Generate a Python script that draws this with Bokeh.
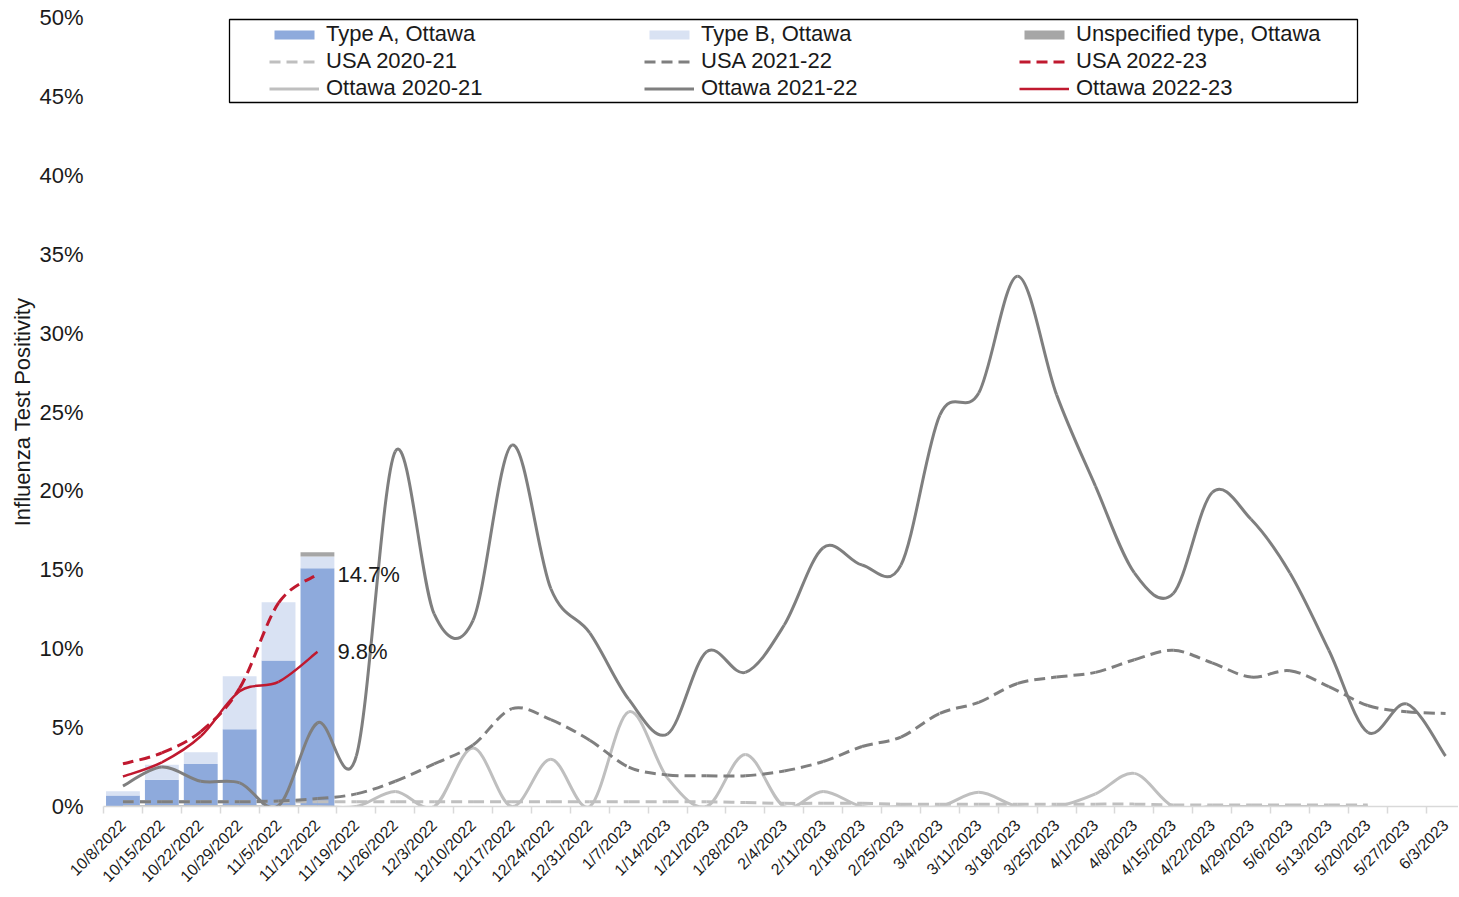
import math
from bokeh.plotting import figure
from bokeh.models import FixedTicker, Legend, LegendItem, BoxAnnotation, Range1d, ColumnDataSource
from bokeh.core.properties import value
from bokeh.embed import file_html
from bokeh.resources import INLINE

# ---------------- data ----------------
weeks = ["10/8/2022", "10/15/2022", "10/22/2022", "10/29/2022", "11/5/2022", "11/12/2022",
         "11/19/2022", "11/26/2022", "12/3/2022", "12/10/2022", "12/17/2022", "12/24/2022",
         "12/31/2022", "1/7/2023", "1/14/2023", "1/21/2023", "1/28/2023", "2/4/2023",
         "2/11/2023", "2/18/2023", "2/25/2023", "3/4/2023", "3/11/2023", "3/18/2023",
         "3/25/2023", "4/1/2023", "4/8/2023", "4/15/2023", "4/22/2023", "4/29/2023",
         "5/6/2023", "5/13/2023", "5/20/2023", "5/27/2023", "6/3/2023"]

type_a_ottawa = [0.7, 1.7, 2.7, 4.9, 9.25, 15.1]
type_b_ottawa = [0.27, 0.95, 0.74, 3.35, 3.7, 0.75]
unspec_ottawa = [0.0, 0.0, 0.0, 0.0, 0.0, 0.26]

usa_2020_21 = [0.3, 0.3, 0.3, 0.3, 0.3, 0.3, 0.3, 0.3, 0.3, 0.3, 0.3, 0.3, 0.3, 0.3, 0.3, 0.3,
               0.25, 0.2, 0.2, 0.2, 0.15, 0.15, 0.15, 0.15, 0.15, 0.15, 0.15, 0.1, 0.1, 0.1,
               0.1, 0.1, 0.1]
ottawa_2020_21 = [0.0, 0.0, 0.0, 0.0, 0.0, 0.0, 0.0, 0.95, 0.0, 3.7, 0.0, 3.0, 0.0, 6.0, 1.8,
                  0.0, 3.3, 0.0, 0.95, 0.0, 0.0, 0.0, 0.9, 0.0, 0.0, 0.8, 2.1, 0.0, 0.0, 0.0,
                  0.0, 0.0, 0.0]
usa_2021_22 = [0.3, 0.3, 0.3, 0.3, 0.35, 0.5, 0.8, 1.6, 2.7, 3.9, 6.2, 5.5, 4.2, 2.5, 2.0,
               1.95, 1.95, 2.25, 2.85, 3.8, 4.4, 5.9, 6.6, 7.8, 8.2, 8.5, 9.3, 9.9, 9.1, 8.2,
               8.6, 7.6, 6.4, 6.0, 5.9]
ottawa_2021_22 = [1.3, 2.5, 1.6, 1.5, 0.05, 5.3, 3.2, 22.5, 12.2, 11.8, 22.9, 13.8, 11.0, 6.8,
                  4.6, 9.8, 8.5, 11.5, 16.4, 15.3, 15.3, 24.8, 26.2, 33.6, 26.1, 20.3, 14.8,
                  13.5, 19.9, 18.2, 14.8, 9.9, 4.7, 6.5, 3.2]
usa_2022_23 = [2.7, 3.4, 4.75, 7.5, 12.9, 14.7]
ottawa_2022_23 = [1.9, 2.8, 4.45, 7.3, 7.9, 9.8]

y_ticks = [0, 5, 10, 15, 20, 25, 30, 35, 40, 45, 50]

# ---------------- styles ----------------
FONT = "Liberation Sans"
C_A, C_B, C_U = "#8eaadc", "#d9e2f3", "#a6a6a6"
C_LIGHT, C_DARK, C_RED = "#bfbfbf", "#7f7f7f", "#c0192f"
TXT = "#1a1a1a"

FRAME_LEFT, FRAME_TOP, FRAME_W, FRAME_H = 103, 17, 1355, 789
W, H = FRAME_LEFT + FRAME_W, 896
PX_PER_CAT = 38.9
X0 = -0.5
X1 = X0 + FRAME_W / PX_PER_CAT

p = figure(width=W, height=H, output_backend="svg", toolbar_location=None,
           x_range=Range1d(X0, X1), y_range=Range1d(0, 50), min_border=0,
           min_border_left=FRAME_LEFT, min_border_right=0, min_border_top=FRAME_TOP,
           min_border_bottom=H - FRAME_TOP - FRAME_H)
p.outline_line_color = None
p.xgrid.visible = False
p.ygrid.visible = False
p.background_fill_color = "white"

idx = list(range(len(weeks)))

# bars
bx = idx[:len(type_a_ottawa)]
a_top = [a for a in type_a_ottawa]
b_top = [a + b for a, b in zip(type_a_ottawa, type_b_ottawa)]
u_top = [t + u for t, u in zip(b_top, unspec_ottawa)]
r_a = p.vbar(x=bx, bottom=0, top=a_top, width=0.87, fill_color=C_A, line_color=None)
r_b = p.vbar(x=bx, bottom=a_top, top=b_top, width=0.87, fill_color=C_B, line_color=None)
r_u = p.vbar(x=bx, bottom=b_top, top=u_top, width=0.87, fill_color=C_U, line_color=None)


def smooth(vals, **kw):
    """Smooth curve through the values (Catmull-Rom as cubic Bezier segments)."""
    n = len(vals)
    xs = list(range(n))
    d = dict(x0=[], y0=[], x1=[], y1=[], cx0=[], cy0=[], cx1=[], cy1=[])
    for i in range(n - 1):
        a = max(i - 1, 0)
        b = min(i + 2, n - 1)
        d["x0"].append(xs[i]); d["y0"].append(vals[i])
        d["x1"].append(xs[i + 1]); d["y1"].append(vals[i + 1])
        d["cx0"].append(xs[i] + (xs[i + 1] - xs[a]) / 6.0)
        d["cy0"].append(vals[i] + (vals[i + 1] - vals[a]) / 6.0)
        d["cx1"].append(xs[i + 1] - (xs[b] - xs[i]) / 6.0)
        d["cy1"].append(vals[i + 1] - (vals[b] - vals[i]) / 6.0)
    src = ColumnDataSource(d)
    return p.bezier(x0="x0", y0="y0", x1="x1", y1="y1", cx0="cx0", cy0="cy0",
                    cx1="cx1", cy1="cy1", source=src, **kw)


DASH = "11 6"
l_usa20 = smooth(usa_2020_21, line_color=C_LIGHT, line_width=3, line_dash=DASH)
l_ott20 = smooth(ottawa_2020_21, line_color=C_LIGHT, line_width=3)
l_usa21 = smooth(usa_2021_22, line_color=C_DARK, line_width=3, line_dash=DASH)
l_ott21 = smooth(ottawa_2021_22, line_color=C_DARK, line_width=3)
l_usa22 = smooth(usa_2022_23, line_color=C_RED, line_width=3, line_dash=DASH)
l_ott22 = smooth(ottawa_2022_23, line_color=C_RED, line_width=2.5)

# end labels
last = len(usa_2022_23) - 1
lab_src = ColumnDataSource(dict(x=[last, last], y=[usa_2022_23[last], ottawa_2022_23[last]],
                                t=[f"{usa_2022_23[last]:.1f}%", f"{ottawa_2022_23[last]:.1f}%"]))
p.text(x="x", y="y", text="t", source=lab_src, x_offset=20, text_baseline="middle",
       text_align="left", text_font=value(FONT), text_font_size="22px", text_color=TXT)

# axes
xa = p.xaxis[0]
xa.ticker = FixedTicker(ticks=idx, minor_ticks=[i - 0.5 for i in range(len(weeks) + 1)])
xa.major_label_overrides = {i: w for i, w in zip(idx, weeks)}
xa.major_label_orientation = math.pi / 4
xa.major_label_text_font = FONT
xa.major_label_text_font_size = "16px"
xa.major_label_text_color = TXT
xa.major_tick_line_color = None
xa.major_tick_out = 0
xa.major_tick_in = 0
xa.minor_tick_line_color = "#d9d9d9"
xa.minor_tick_line_width = 1.5
xa.minor_tick_out = 7
xa.minor_tick_in = 0
xa.axis_line_color = "#d9d9d9"
xa.axis_line_width = 1.5
xa.major_label_standoff = 9

ya = p.yaxis[0]
ya.ticker = FixedTicker(ticks=y_ticks)
ya.major_label_overrides = {t: f"{t}%" for t in y_ticks}
ya.major_label_text_font = FONT
ya.major_label_text_font_size = "22px"
ya.major_label_text_color = TXT
ya.axis_line_color = None
ya.major_tick_line_color = None
ya.minor_tick_line_color = None
ya.major_tick_out = 0
ya.major_tick_in = 0
ya.major_label_standoff = 20
ya.axis_label = "Influenza Test Positivity"
ya.axis_label_text_font = FONT
ya.axis_label_text_font_size = "22px"
ya.axis_label_text_font_style = "normal"
ya.axis_label_text_color = TXT
ya.axis_label_standoff = 1

# legend (three columns inside one frame)
leg_cols = [
    [("Type A, Ottawa", r_a), ("USA 2020-21", l_usa20), ("Ottawa 2020-21", l_ott20)],
    [("Type B, Ottawa", r_b), ("USA 2021-22", l_usa21), ("Ottawa 2021-22", l_ott21)],
    [("Unspecified type, Ottawa", r_u), ("USA 2022-23", l_usa22), ("Ottawa 2022-23", l_ott22)],
]
col_left = [166, 541, 916]
for left, col in zip(col_left, leg_cols):
    leg = Legend(items=[LegendItem(label=lab, renderers=[r]) for lab, r in col],
                 location=(left, 705), orientation="vertical",
                 padding=0, margin=0, border_line_color=None, background_fill_alpha=0,
                 glyph_width=50, glyph_height=11, label_height=23, spacing=1,
                 label_standoff=7, label_text_font=FONT, label_text_font_size="22px",
                 label_text_color=TXT)
    p.add_layout(leg, "center")


def fx(px):
    return X0 + px / PX_PER_CAT


def fy(py):
    return 50.0 * (1 - py / FRAME_H)


box = BoxAnnotation(left=fx(126), right=fx(1254), top=fy(2), bottom=fy(85),
                    fill_alpha=0, line_color="black", line_alpha=1.0, line_width=1.3)
p.add_layout(box)

open("out.html", "w").write(file_html(p, INLINE))
